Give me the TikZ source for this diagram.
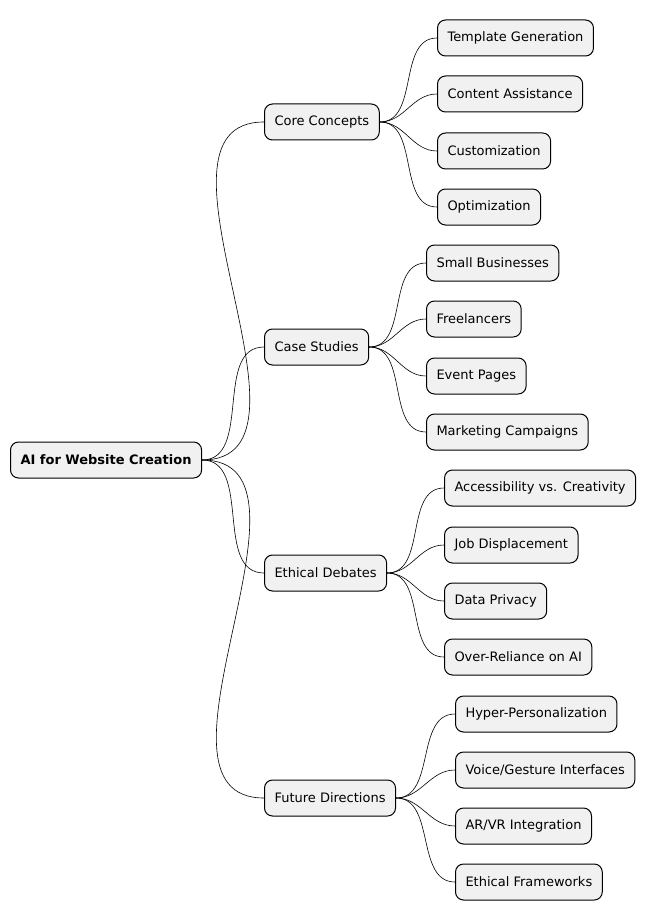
\documentclass[tikz,border=0pt]{standalone}
\usepackage{fontspec}
\setmainfont{DejaVu Sans}
\begin{document}
\begin{tikzpicture}[x=1pt,y=-1pt,
  topic/.style={draw=black,line width=1pt,fill=boxFill,rounded corners=8pt,
    anchor=west,minimum height=36pt,inner xsep=10pt,font=\fontsize{13}{15}\selectfont},
  link/.style={draw=black,line width=0.6pt}]
\definecolor{boxFill}{RGB}{241,241,241}
\path[use as bounding box,fill=white] (0,0) rectangle (668,920);

\node[topic,font=\fontsize{13}{15}\selectfont\bfseries] (root) at (10,460) {AI for Website Creation};

\node[topic] (core) at (264,122) {Core Concepts};
\node[topic] (cases) at (264,347) {Case Studies};
\node[topic] (ethic) at (264,573) {Ethical Debates};
\node[topic] (future) at (264,798) {Future Directions};

\node[topic] (core1) at (437,38) {Template Generation};
\node[topic] (core2) at (437,94) {Content Assistance};
\node[topic] (core3) at (437,151) {Customization};
\node[topic] (core4) at (437,207) {Optimization};

\node[topic] (cases1) at (426,263) {Small Businesses};
\node[topic] (cases2) at (426,319) {Freelancers};
\node[topic] (cases3) at (426,376) {Event Pages};
\node[topic] (cases4) at (426,432) {Marketing Campaigns};

\node[topic] (ethic1) at (444,488) {Accessibility vs. Creativity};
\node[topic] (ethic2) at (444,545) {Job Displacement};
\node[topic] (ethic3) at (444,601) {Data Privacy};
\node[topic] (ethic4) at (444,657) {Over-Reliance on AI};

\node[topic] (future1) at (455,714) {Hyper-Personalization};
\node[topic] (future2) at (455,770) {Voice/Gesture Interfaces};
\node[topic] (future3) at (455,826) {AR/VR Integration};
\node[topic] (future4) at (455,882) {Ethical Frameworks};

\foreach \child in {core,cases,ethic,future}
  \draw[link] (root.east) to[out=0,in=180] (\child.west);
\foreach \parent in {core,cases,ethic,future}
  \foreach \i in {1,...,4}
    \draw[link] (\parent.east) to[out=0,in=180] (\parent\i.west);
\end{tikzpicture}
\end{document}
